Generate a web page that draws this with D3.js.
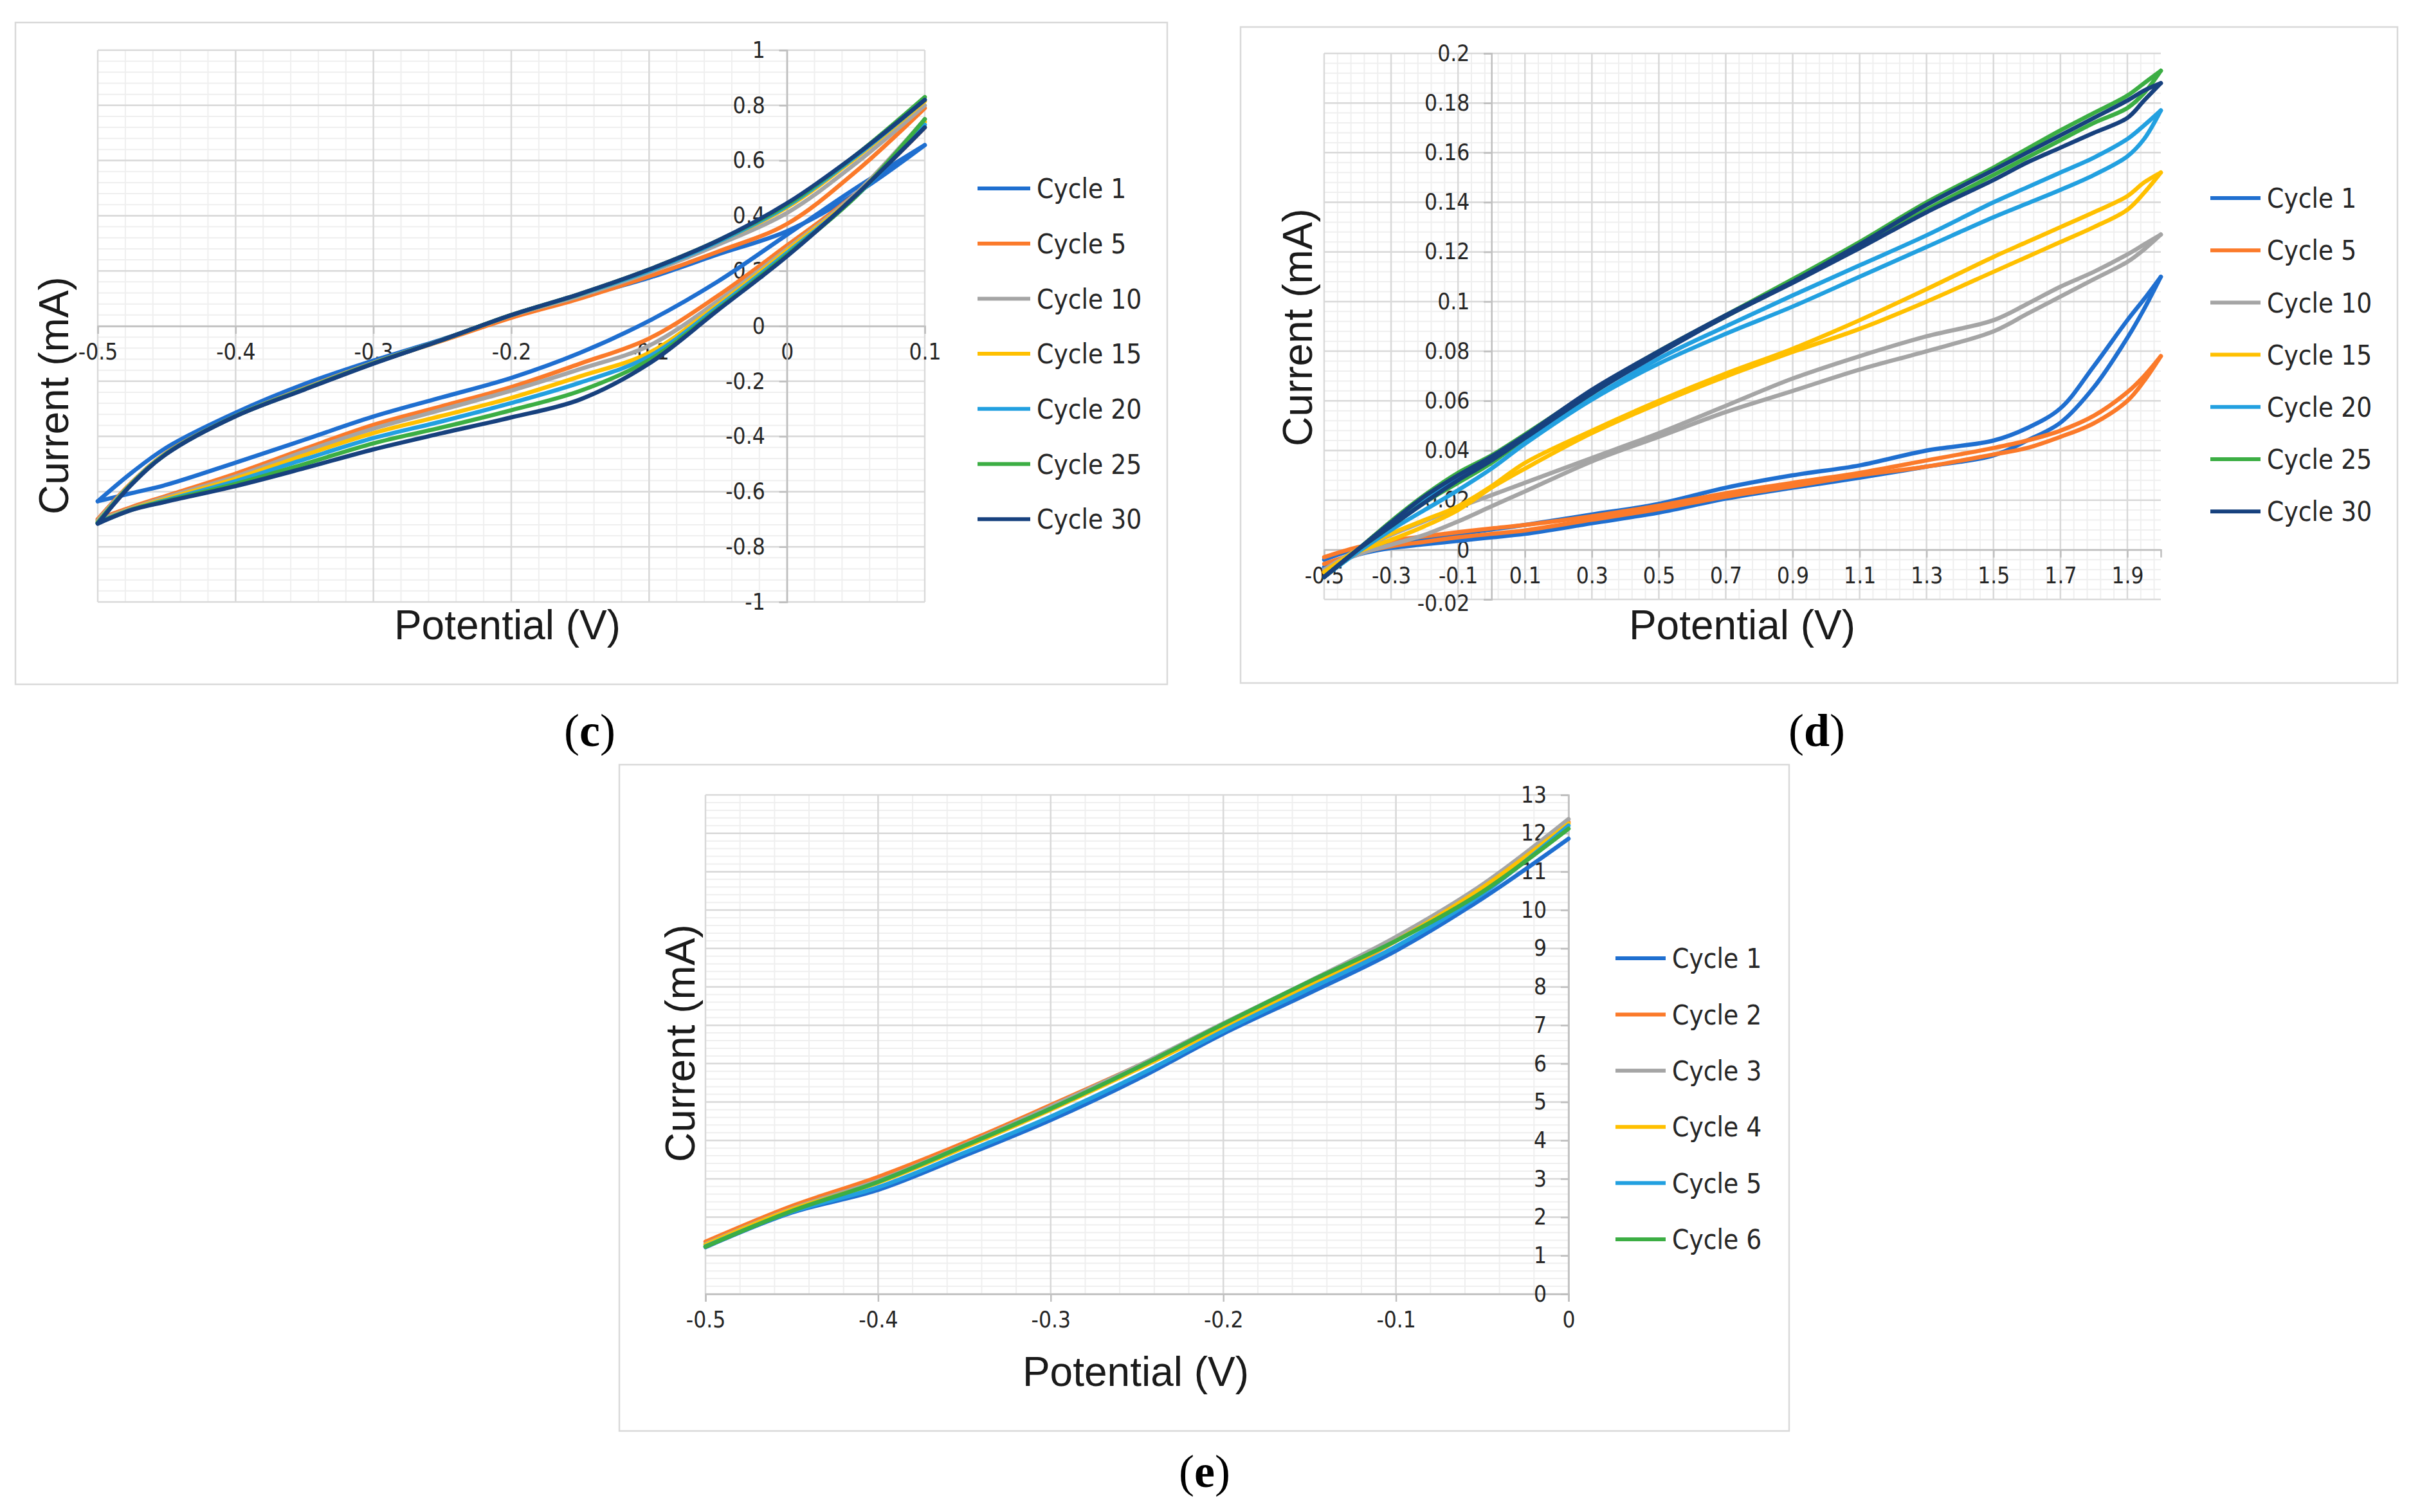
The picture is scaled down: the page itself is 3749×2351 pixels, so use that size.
<!DOCTYPE html>
<html>
<head>
<meta charset="utf-8">
<script src="https://cdn.jsdelivr.net/npm/d3@7"></script>
<style>
  html, body { margin: 0; padding: 0; background: #fff; }
  svg { display: block; }
  .tick text { font-family: "DejaVu Sans Condensed", "DejaVu Sans", sans-serif; font-stretch: condensed; fill: #262626; }
  .legend text { font-family: "DejaVu Sans Condensed", "DejaVu Sans", sans-serif; font-stretch: condensed; fill: #262626; }
  .title { font-family: "Liberation Sans", Arial, sans-serif; fill: #1a1a1a; }
  .panel-label { font-family: "Liberation Serif", "Times New Roman", serif; fill: #000; }
</style>
</head>
<body>
<script>
// ---------- data ----------

// panel (c): cycles 1..30, potential (V) vs current (mA)
const cCycles = ["Cycle 1", "Cycle 5", "Cycle 10", "Cycle 15", "Cycle 20", "Cycle 25", "Cycle 30"];
const cPotential = [-0.5, -0.475, -0.45, -0.4, -0.35, -0.3, -0.25, -0.2, -0.15, -0.1, -0.05, 0, 0.05, 0.1];
// upper branch, one row per cycle
const cUpper = [
    [-0.635, -0.53, -0.44, -0.314, -0.21, -0.125, -0.048, 0.035, 0.105, 0.175, 0.26, 0.344, 0.48, 0.656],
    [-0.70, -0.565, -0.458, -0.326, -0.225, -0.133, -0.053, 0.03, 0.1, 0.18, 0.27, 0.37, 0.56, 0.79],
    [-0.705, -0.567, -0.46, -0.326, -0.226, -0.133, -0.05, 0.038, 0.11, 0.195, 0.295, 0.41, 0.59, 0.80],
    [-0.71, -0.568, -0.46, -0.326, -0.227, -0.134, -0.05, 0.04, 0.115, 0.2, 0.305, 0.43, 0.61, 0.815],
    [-0.712, -0.569, -0.461, -0.326, -0.228, -0.135, -0.05, 0.04, 0.115, 0.2, 0.305, 0.435, 0.615, 0.82],
    [-0.714, -0.57, -0.462, -0.326, -0.229, -0.135, -0.05, 0.04, 0.117, 0.205, 0.31, 0.44, 0.62, 0.83],
    [-0.716, -0.572, -0.463, -0.327, -0.23, -0.136, -0.05, 0.04, 0.117, 0.205, 0.31, 0.445, 0.62, 0.82]
];
// lower branch
const cLower = [
    [-0.635, -0.605, -0.575, -0.495, -0.412, -0.328, -0.258, -0.188, -0.097, 0.019, 0.162, 0.331, 0.50, 0.656],
    [-0.70, -0.655, -0.615, -0.535, -0.445, -0.358, -0.29, -0.221, -0.136, -0.045, 0.11, 0.292, 0.48, 0.72],
    [-0.705, -0.66, -0.62, -0.545, -0.455, -0.372, -0.303, -0.234, -0.156, -0.071, 0.091, 0.279, 0.48, 0.75],
    [-0.71, -0.662, -0.625, -0.553, -0.468, -0.388, -0.325, -0.26, -0.182, -0.097, 0.078, 0.273, 0.474, 0.74],
    [-0.712, -0.664, -0.63, -0.562, -0.483, -0.406, -0.345, -0.279, -0.205, -0.11, 0.07, 0.265, 0.47, 0.73],
    [-0.714, -0.665, -0.633, -0.572, -0.5, -0.425, -0.367, -0.305, -0.235, -0.123, 0.062, 0.258, 0.47, 0.75],
    [-0.716, -0.666, -0.636, -0.58, -0.515, -0.447, -0.388, -0.331, -0.266, -0.136, 0.058, 0.253, 0.474, 0.72]
];
const cXTicks = [-0.5, -0.4, -0.3, -0.2, -0.1, 0, 0.1];
const cYTicks = [-1, -0.8, -0.6, -0.4, -0.2, 0, 0.2, 0.4, 0.6, 0.8, 1];

// panel (d)
const dCycles = ["Cycle 1", "Cycle 5", "Cycle 10", "Cycle 15", "Cycle 20", "Cycle 25", "Cycle 30"];
const dPotential = [-0.5, -0.4, -0.3, -0.2, -0.1, 0, 0.1, 0.3, 0.5, 0.7, 0.9, 1.1, 1.3, 1.5, 1.6, 1.7, 1.8, 1.9, 1.95, 2.0];
const dUpper = [
    [-0.004, 0.0005, 0.0028, 0.0046, 0.0064, 0.0082, 0.010, 0.0142, 0.0185, 0.025, 0.030, 0.034, 0.040, 0.044, 0.049, 0.057, 0.074, 0.0925, 0.101, 0.110],
    [-0.003, 0.001, 0.0036, 0.0054, 0.0071, 0.0086, 0.010, 0.0135, 0.0178, 0.0228, 0.027, 0.031, 0.036, 0.041, 0.044, 0.048, 0.054, 0.0635, 0.070, 0.078],
    [-0.008, 0.0, 0.006, 0.0115, 0.017, 0.022, 0.027, 0.037, 0.047, 0.058, 0.069, 0.078, 0.086, 0.0925, 0.099, 0.106, 0.112, 0.119, 0.123, 0.127],
    [-0.009, 0.0, 0.0065, 0.012, 0.0175, 0.0256, 0.035, 0.048, 0.060, 0.071, 0.081, 0.0925, 0.105, 0.118, 0.124, 0.130, 0.136, 0.1425, 0.148, 0.152],
    [-0.011, 0.0, 0.0105, 0.0205, 0.0285, 0.0355, 0.044, 0.061, 0.077, 0.090, 0.1025, 0.1146, 0.1267, 0.140, 0.146, 0.152, 0.158, 0.1655, 0.171, 0.177],
    [-0.011, 0.0, 0.0115, 0.022, 0.031, 0.038, 0.0465, 0.064, 0.080, 0.0945, 0.109, 0.124, 0.140, 0.154, 0.1615, 0.169, 0.176, 0.183, 0.188, 0.193],
    [-0.011, 0.0, 0.011, 0.0215, 0.030, 0.0375, 0.046, 0.0645, 0.080, 0.0945, 0.108, 0.123, 0.139, 0.153, 0.160, 0.167, 0.174, 0.181, 0.185, 0.188]
];
const dLower = [
    [-0.007, -0.002, 0.0007, 0.0022, 0.0036, 0.005, 0.0064, 0.0107, 0.015, 0.0206, 0.025, 0.029, 0.0335, 0.038, 0.044, 0.0512, 0.0655, 0.0854, 0.097, 0.110],
    [-0.0057, -0.0015, 0.0014, 0.0032, 0.005, 0.0064, 0.0078, 0.0121, 0.0164, 0.0214, 0.0256, 0.030, 0.0335, 0.0384, 0.041, 0.0455, 0.051, 0.060, 0.068, 0.078],
    [-0.008, -0.002, 0.002, 0.006, 0.0114, 0.0175, 0.0235, 0.0356, 0.0455, 0.0555, 0.064, 0.0726, 0.080, 0.088, 0.095, 0.102, 0.109, 0.116, 0.121, 0.127],
    [-0.009, -0.001, 0.004, 0.0095, 0.016, 0.025, 0.0327, 0.047, 0.059, 0.0698, 0.0797, 0.089, 0.100, 0.112, 0.118, 0.124, 0.130, 0.137, 0.1438, 0.152],
    [-0.011, -0.001, 0.008, 0.016, 0.024, 0.0327, 0.0427, 0.0605, 0.075, 0.087, 0.098, 0.110, 0.122, 0.134, 0.1395, 0.145, 0.151, 0.1585, 0.1655, 0.177],
    [-0.011, 0.0, 0.0095, 0.019, 0.027, 0.035, 0.045, 0.063, 0.0795, 0.094, 0.108, 0.122, 0.137, 0.151, 0.158, 0.165, 0.172, 0.178, 0.184, 0.193],
    [-0.011, 0.0, 0.0095, 0.019, 0.028, 0.036, 0.045, 0.063, 0.079, 0.094, 0.1075, 0.1215, 0.136, 0.149, 0.156, 0.162, 0.168, 0.174, 0.181, 0.188]
];
const dXTicks = [-0.5, -0.3, -0.1, 0.1, 0.3, 0.5, 0.7, 0.9, 1.1, 1.3, 1.5, 1.7, 1.9];
const dYTicks = [-0.02, 0, 0.02, 0.04, 0.06, 0.08, 0.1, 0.12, 0.14, 0.16, 0.18, 0.2];

// panel (e)
const eCycles = ["Cycle 1", "Cycle 2", "Cycle 3", "Cycle 4", "Cycle 5", "Cycle 6"];
const ePotential = [-0.5, -0.45, -0.4, -0.35, -0.3, -0.25, -0.2, -0.15, -0.1, -0.05, 0];
const eCurrent = [
    [1.22, 2.12, 2.71, 3.6, 4.53, 5.59, 6.78, 7.84, 8.94, 10.3, 11.86],
    [1.36, 2.29, 3.05, 3.94, 4.92, 5.93, 6.99, 8.0, 9.2, 10.6, 12.29],
    [1.30, 2.22, 2.95, 3.88, 4.88, 5.93, 7.05, 8.15, 9.3, 10.66, 12.37],
    [1.28, 2.2, 2.9, 3.82, 4.8, 5.85, 6.95, 8.05, 9.2, 10.58, 12.25],
    [1.24, 2.14, 2.78, 3.68, 4.62, 5.68, 6.85, 7.95, 9.05, 10.42, 12.2],
    [1.23, 2.16, 2.92, 3.86, 4.83, 5.89, 7.03, 8.14, 9.2, 10.47, 12.12]
];
const eXTicks = [-0.5, -0.4, -0.3, -0.2, -0.1, 0];
const eYTicks = [0, 1, 2, 3, 4, 5, 6, 7, 8, 9, 10, 11, 12, 13];

const cycleColors = ["#1f6fd0", "#fb7a2a", "#a5a5a5", "#ffc000", "#22a0e0", "#3cae44", "#17417e"];


// ---------- drawing ----------

const W = 3749, H = 2351;

const svg = d3.select("body").append("svg")
    .attr("width", W)
    .attr("height", H);

const fmt = v => String(+v.toFixed(4));

// grid positions, counted from the axis minimum like Excel does
function gridSteps(min, max, step) {
    let n = Math.floor((max - min) / step + 1e-6);
    return d3.range(0, n + 1).map(i => +(min + i * step).toFixed(6));
}

function drawPanel(p, id) {
    let g = svg.append("g");

    // chart frame
    g.append("rect")
        .attr("x", p.frame[0]).attr("y", p.frame[1])
        .attr("width", p.frame[2] - p.frame[0])
        .attr("height", p.frame[3] - p.frame[1])
        .attr("fill", "#fff")
        .attr("stroke", "#d9d9d9")
        .attr("stroke-width", 2.5);

    let x = d3.scaleLinear().domain(p.xDomain).range([p.left, p.right]);
    let y = d3.scaleLinear().domain(p.yDomain).range([p.bottom, p.top]);

    // minor grid
    g.selectAll(".vminor").data(gridSteps(p.xDomain[0], p.xDomain[1], p.xMinor))
        .enter().append("line")
        .attr("x1", d => x(d)).attr("x2", d => x(d))
        .attr("y1", p.top).attr("y2", p.bottom)
        .attr("stroke", "#efefef").attr("stroke-width", 2);
    g.selectAll(".hminor").data(gridSteps(p.yDomain[0], p.yDomain[1], p.yMinor))
        .enter().append("line")
        .attr("y1", d => y(d)).attr("y2", d => y(d))
        .attr("x1", p.left).attr("x2", p.right)
        .attr("stroke", "#efefef").attr("stroke-width", 2);

    // major grid
    g.selectAll(".vmajor").data(gridSteps(p.xDomain[0], p.xDomain[1], p.xMajor))
        .enter().append("line")
        .attr("x1", d => x(d)).attr("x2", d => x(d))
        .attr("y1", p.top).attr("y2", p.bottom)
        .attr("stroke", "#d9d9d9").attr("stroke-width", 2.5);
    g.selectAll(".hmajor").data(gridSteps(p.yDomain[0], p.yDomain[1], p.yMajor))
        .enter().append("line")
        .attr("y1", d => y(d)).attr("y2", d => y(d))
        .attr("x1", p.left).attr("x2", p.right)
        .attr("stroke", "#d9d9d9").attr("stroke-width", 2.5);

    // axes cross at zero
    let xAxis = d3.axisBottom(x)
        .tickValues(p.xTicks)
        .tickFormat(fmt)
        .tickSize(12)
        .tickPadding(15);
    let yAxis = d3.axisLeft(y)
        .tickValues(p.yTicks)
        .tickFormat(fmt)
        .tickSize(12)
        .tickPadding(22);

    let gx = g.append("g")
        .attr("transform", `translate(0, ${y(0)})`)
        .call(xAxis);
    let gy = g.append("g")
        .attr("transform", `translate(${x(0)}, 0)`)
        .call(yAxis);

    [gx, gy].forEach(a => {
        a.select(".domain").attr("stroke", "#bfbfbf").attr("stroke-width", 2.5);
        a.selectAll(".tick line").attr("stroke", "#bfbfbf").attr("stroke-width", 2.5);
        a.selectAll(".tick text").attr("font-size", 35).attr("fill", "#262626");
    });
    // in (d) the lowest y label sits just under the x labels
    if (p.lowLabelDy) {
        gy.selectAll(".tick text").filter(d => d === p.yDomain[0])
            .attr("dy", p.lowLabelDy);
    }

    // curves, clipped to the plot area
    svg.append("clipPath").attr("id", "clip-" + id)
        .append("rect")
        .attr("x", p.left - 4).attr("y", p.top - 4)
        .attr("width", p.right - p.left + 8)
        .attr("height", p.bottom - p.top + 8);

    let line = d3.line()
        .x(d => x(d[0]))
        .y(d => y(d[1]))
        .curve(d3.curveCatmullRom.alpha(0.5));

    let curves = g.append("g").attr("clip-path", `url(#clip-${id})`);
    p.branches.forEach(b => {
        curves.append("path")
            .datum(p.potential.map((v, i) => [v, b.values[i]]))
            .attr("d", line)
            .attr("fill", "none")
            .attr("stroke", cycleColors[b.series])
            .attr("stroke-width", 6.5)
            .attr("stroke-linejoin", "round")
            .attr("stroke-linecap", "round");
    });

    // legend
    let leg = g.append("g").attr("class", "legend");
    p.cycles.forEach((name, i) => {
        let ly = p.legend.y0 + i * p.legend.step;
        leg.append("line")
            .attr("x1", p.legend.x1).attr("x2", p.legend.x2)
            .attr("y1", ly).attr("y2", ly)
            .attr("stroke", cycleColors[i])
            .attr("stroke-width", 6);
        leg.append("text")
            .attr("x", p.legend.tx).attr("y", ly)
            .attr("dy", "0.36em")
            .attr("font-size", 42)
            .text(name);
    });

    // axis titles
    g.append("text")
        .attr("class", "title")
        .attr("x", p.xTitle[0]).attr("y", p.xTitle[1])
        .attr("text-anchor", "middle")
        .attr("font-size", 64)
        .text("Potential (V)");
    g.append("text")
        .attr("class", "title")
        .attr("transform", `translate(${p.yTitle[0]}, ${p.yTitle[1]}) rotate(-90)`)
        .attr("text-anchor", "middle")
        .attr("font-size", 64)
        .text("Current (mA)");

    // panel letter
    let lab = svg.append("text")
        .attr("class", "panel-label")
        .attr("x", p.label[0]).attr("y", p.label[1])
        .attr("text-anchor", "middle")
        .attr("font-size", 72);
    lab.append("tspan").text("(");
    lab.append("tspan").attr("font-weight", "bold").text(p.letter);
    lab.append("tspan").text(")");
}

function branchList(upper, lower) {
    let list = [];
    upper.forEach((vals, i) => {
        list.push({series: i, values: vals});
        list.push({series: i, values: lower[i]});
    });
    return list;
}

drawPanel({
    frame: [24, 35, 1815, 1064],
    left: 152, right: 1438, top: 78, bottom: 936,
    xDomain: [-0.5, 0.1], yDomain: [-1, 1],
    xMajor: 0.1, xMinor: 0.02, yMajor: 0.2, yMinor: 0.04,
    xTicks: cXTicks, yTicks: cYTicks,
    potential: cPotential,
    branches: branchList(cUpper, cLower),
    cycles: cCycles,
    legend: {x1: 1520, x2: 1602, tx: 1612, y0: 293, step: 85.7},
    xTitle: [789, 994],
    yTitle: [106, 615],
    label: [917, 1160],
    letter: "c"
}, "c");

drawPanel({
    frame: [1929, 42, 3728, 1062],
    left: 2059, right: 3360, top: 83, bottom: 932,
    xDomain: [-0.5, 2.0], yDomain: [-0.02, 0.2],
    xMajor: 0.2, xMinor: 0.04, yMajor: 0.02, yMinor: 0.004,
    xTicks: dXTicks, yTicks: dYTicks,
    potential: dPotential,
    branches: branchList(dUpper, dLower),
    cycles: dCycles,
    legend: {x1: 3437, x2: 3515, tx: 3525, y0: 308, step: 81.2},
    xTitle: [2709, 994],
    yTitle: [2040, 509],
    label: [2825, 1160],
    letter: "d",
    lowLabelDy: "0.5em"
}, "d");

drawPanel({
    frame: [963, 1189, 2782, 2225],
    left: 1097, right: 2439, top: 1236, bottom: 2012,
    xDomain: [-0.5, 0], yDomain: [0, 13],
    xMajor: 0.1, xMinor: 0.02, yMajor: 1, yMinor: 0.2,
    xTicks: eXTicks, yTicks: eYTicks,
    potential: ePotential,
    branches: eCurrent.map((vals, i) => ({series: i, values: vals})),
    cycles: eCycles,
    legend: {x1: 2512, x2: 2590, tx: 2600, y0: 1490, step: 87.4},
    xTitle: [1766, 2155],
    yTitle: [1080, 1622],
    label: [1873, 2312],
    letter: "e"
}, "e");
</script>
</body>
</html>
